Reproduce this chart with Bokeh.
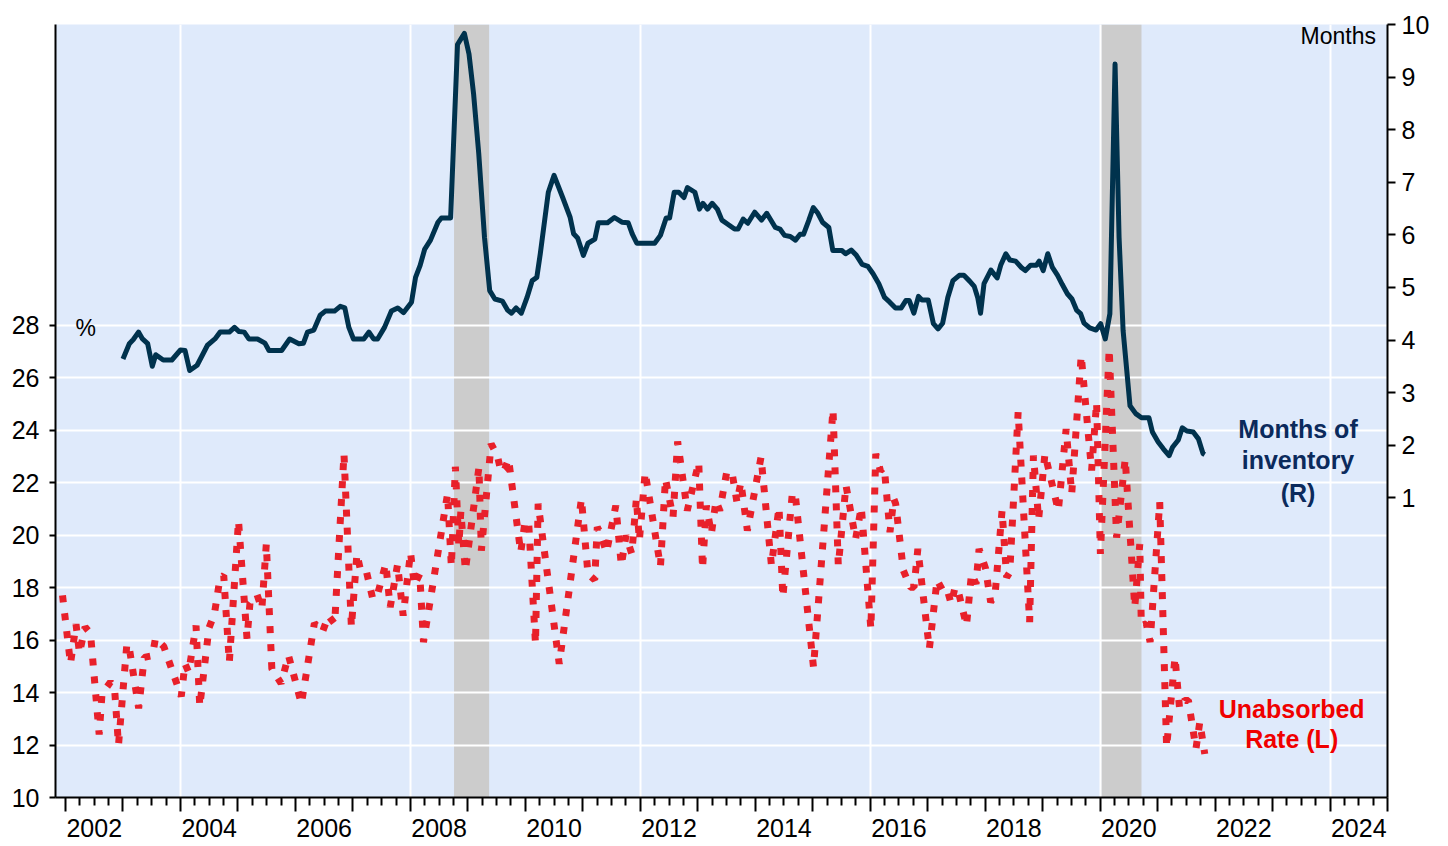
from bokeh.plotting import figure
from bokeh.models import Range1d, LinearAxis, FixedTicker, Label
from bokeh.embed import file_html
from bokeh.resources import INLINE

# ---------------- data ----------------
inv_year = [2003.00, 2003.11, 2003.18, 2003.27, 2003.34, 2003.43, 2003.51, 2003.57, 2003.70, 2003.85,
            2004.00, 2004.08, 2004.16, 2004.29, 2004.47, 2004.60, 2004.69, 2004.85, 2004.94,
            2005.02, 2005.11, 2005.19, 2005.34, 2005.47, 2005.54, 2005.76, 2005.90,
            2006.06, 2006.14, 2006.21, 2006.32, 2006.43, 2006.52, 2006.68, 2006.78, 2006.86, 2006.93,
            2007.01, 2007.19, 2007.28, 2007.36, 2007.43, 2007.55, 2007.67, 2007.78, 2007.88,
            2008.02, 2008.09, 2008.17, 2008.25, 2008.35, 2008.48, 2008.54, 2008.70, 2008.82, 2008.94,
            2009.02, 2009.10, 2009.19, 2009.29, 2009.38, 2009.47, 2009.60, 2009.69, 2009.76, 2009.84, 2009.93,
            2010.03, 2010.12, 2010.20, 2010.26, 2010.40, 2010.50, 2010.65, 2010.78, 2010.84, 2010.91,
            2011.01, 2011.09, 2011.21, 2011.27, 2011.43, 2011.55, 2011.68, 2011.79, 2011.86, 2011.94,
            2012.25, 2012.35, 2012.45, 2012.51, 2012.59, 2012.67, 2012.76, 2012.82, 2012.95,
            2013.03, 2013.09, 2013.17, 2013.25, 2013.34, 2013.42, 2013.51, 2013.64, 2013.70, 2013.79, 2013.87, 2013.99,
            2014.11, 2014.20, 2014.35, 2014.43, 2014.51, 2014.61, 2014.70, 2014.78, 2014.84, 2014.93,
            2015.01, 2015.09, 2015.17, 2015.28, 2015.35, 2015.51, 2015.57, 2015.67, 2015.76, 2015.86, 2015.96,
            2016.05, 2016.15, 2016.25, 2016.34, 2016.44, 2016.54, 2016.62, 2016.68, 2016.76, 2016.84, 2016.90,
            2017.01, 2017.10, 2017.18, 2017.26, 2017.35, 2017.44, 2017.55, 2017.63, 2017.73, 2017.81, 2017.87, 2017.92, 2017.98,
            2018.10, 2018.21, 2018.27, 2018.36, 2018.43, 2018.53, 2018.63, 2018.70, 2018.79, 2018.89, 2018.94,
            2019.01, 2019.09, 2019.17, 2019.26, 2019.34, 2019.43, 2019.51, 2019.59, 2019.66, 2019.72, 2019.82, 2019.93,
            2020.01, 2020.09, 2020.17, 2020.26, 2020.33, 2020.40, 2020.52, 2020.62, 2020.72, 2020.85, 2020.91,
            2021.01, 2021.10, 2021.20, 2021.26, 2021.36, 2021.43, 2021.51, 2021.62, 2021.71, 2021.79, 2021.82]
inv_months = [3.64, 3.93, 4.01, 4.15, 4.02, 3.93, 3.50, 3.72, 3.62, 3.62,
              3.81, 3.80, 3.42, 3.52, 3.90, 4.02, 4.15, 4.15, 4.24,
              4.16, 4.15, 4.02, 4.02, 3.94, 3.80, 3.80, 4.02,
              3.93, 3.94, 4.15, 4.19, 4.47, 4.55, 4.55, 4.64, 4.61, 4.24,
              4.02, 4.02, 4.15, 4.02, 4.02, 4.24, 4.55, 4.61, 4.52,
              4.72, 5.19, 5.42, 5.73, 5.90, 6.24, 6.32, 6.32, 9.62, 9.83,
              9.44, 8.68, 7.54, 5.95, 4.94, 4.78, 4.74, 4.57, 4.51, 4.61, 4.51,
              4.81, 5.13, 5.19, 5.64, 6.81, 7.13, 6.71, 6.33, 6.02, 5.94,
              5.61, 5.84, 5.92, 6.23, 6.23, 6.33, 6.24, 6.23, 6.02, 5.84,
              5.84, 5.99, 6.32, 6.32, 6.81, 6.81, 6.71, 6.90, 6.81,
              6.49, 6.60, 6.49, 6.60, 6.49, 6.28, 6.21, 6.11, 6.11, 6.30, 6.22, 6.43,
              6.28, 6.41, 6.14, 6.11, 5.99, 5.97, 5.90, 6.01, 6.01, 6.27,
              6.52, 6.41, 6.24, 6.14, 5.70, 5.70, 5.64, 5.71, 5.61, 5.44, 5.40,
              5.26, 5.07, 4.81, 4.72, 4.61, 4.61, 4.75, 4.75, 4.51, 4.83, 4.76,
              4.76, 4.31, 4.21, 4.32, 4.81, 5.13, 5.23, 5.23, 5.12, 5.02, 4.81, 4.51, 5.07,
              5.33, 5.18, 5.42, 5.64, 5.52, 5.50, 5.38, 5.32, 5.42, 5.42, 5.50,
              5.32, 5.64, 5.38, 5.23, 5.06, 4.88, 4.78, 4.57, 4.50, 4.32, 4.23, 4.19,
              4.31, 4.02, 4.50, 9.25, 5.95, 4.18, 2.75, 2.60, 2.52, 2.52, 2.25,
              2.06, 1.93, 1.80, 1.96, 2.10, 2.33, 2.27, 2.25, 2.12, 1.84, 1.82]

unabs_year = [2001.948, 2002.087, 2002.183, 2002.243, 2002.341, 2002.435, 2002.586, 2002.635, 2002.783, 2002.852, 2002.922,
              2003.068, 2003.113, 2003.273, 2003.370, 2003.513, 2003.565, 2003.711,
              2004.014, 2004.078, 2004.143, 2004.271, 2004.336, 2004.496, 2004.591, 2004.689, 2004.753, 2004.850,
              2005.010, 2005.158, 2005.209, 2005.332, 2005.416, 2005.494, 2005.590, 2005.751, 2005.880,
              2006.104, 2006.330, 2006.470, 2006.574, 2006.683, 2006.845, 2006.974,
              2007.070, 2007.134, 2007.231, 2007.346, 2007.424, 2007.572, 2007.649, 2007.777, 2007.875,
              2008.003, 2008.068, 2008.163, 2008.228, 2008.647, 2008.713, 2008.783, 2008.843, 2008.878, 2008.957,
              2009.193, 2009.235, 2009.405, 2009.513, 2009.579, 2009.643, 2009.708, 2009.920, 2009.997,
              2010.061, 2010.177, 2010.223, 2010.590, 2010.976,
              2011.090, 2011.207, 2011.252, 2011.297, 2011.412, 2011.574, 2011.670, 2011.751, 2011.852, 2011.932, 2011.984,
              2012.085, 2012.351, 2012.438, 2012.570, 2012.650, 2012.817,
              2013.017, 2013.083, 2013.150, 2013.237, 2013.317, 2013.383, 2013.503, 2013.595, 2013.682, 2013.750, 2013.863,
              2014.101, 2014.282, 2014.414, 2014.480, 2014.647, 2014.701,
              2015.014, 2015.353, 2015.445, 2015.579, 2015.746, 2015.845,
              2016.012, 2016.097, 2016.177, 2016.245, 2016.344, 2016.410, 2016.443, 2016.577, 2016.697, 2016.763, 2016.829,
              2017.029, 2017.163, 2017.277, 2017.343, 2017.409, 2017.477, 2017.543, 2017.675, 2017.762, 2017.842, 2017.894,
              2018.009, 2018.096, 2018.174, 2018.294, 2018.374, 2018.428, 2018.574, 2018.774, 2018.840, 2018.930,
              2019.040, 2019.273, 2019.409, 2019.506, 2019.671, 2019.852, 2019.939,
              2020.005, 2020.158, 2020.287, 2020.437, 2020.603, 2020.690, 2020.717, 2020.804, 2020.870,
              2021.037, 2021.157, 2021.303, 2021.383, 2021.470, 2021.536, 2021.668, 2021.734, 2021.821]
unabs_rate = [17.70, 15.10, 16.60, 15.50, 16.50, 16.25, 12.40, 13.95, 14.40, 14.20, 12.00,
              15.86, 15.66, 13.40, 15.34, 15.40, 16.07, 15.75,
              13.85, 15.10, 14.77, 16.55, 13.47, 16.46, 17.00, 18.37, 18.46, 15.15,
              20.55, 16.05, 17.40, 17.73, 17.19, 19.66, 14.90, 14.35, 15.41,
              13.57, 16.64, 16.30, 16.93, 16.62, 23.09, 16.49,
              19.28, 18.65, 18.65, 17.57, 17.70, 18.90, 17.25, 18.88, 16.93,
              19.34, 18.08, 18.52, 15.92, 21.57, 18.80, 22.60, 19.60, 20.90, 18.65,
              22.58, 19.40, 23.47, 23.03, 22.39, 22.52, 22.90, 19.34, 20.55,
              20.36, 15.86, 21.19, 15.09, 21.38,
              18.52, 18.29, 20.30, 20.11, 19.34, 21.12, 18.84, 19.98, 19.28, 21.38, 19.79,
              22.39, 18.80, 22.14, 20.68, 23.56, 20.93,
              22.77, 18.71, 21.12, 20.05, 21.31, 20.93, 22.39, 22.39, 21.25, 22.01, 20.17,
              22.97, 18.84, 21.06, 17.63, 21.63, 21.44,
              14.96, 24.78, 18.84, 21.89, 19.85, 21.06,
              16.42, 23.09, 22.46, 22.58, 20.11, 21.38, 21.19, 18.65, 18.01, 18.01, 19.47,
              15.66, 18.29, 17.82, 17.89, 17.38, 18.01, 17.76, 16.55, 18.52, 18.14, 19.47,
              18.71, 17.44, 17.76, 20.93, 18.39, 18.58, 24.68, 16.68, 23.03, 20.60,
              23.09, 20.93, 24.04, 21.57, 26.84, 22.46, 25.06,
              19.28, 27.09, 19.90, 22.90, 17.25, 19.66, 16.55, 16.62, 15.92,
              21.25, 11.92, 15.34, 13.38, 13.70, 13.70, 11.86, 12.87, 11.66]

recession_start = [2008.76, 2020.02]
recession_end = [2009.37, 2020.72]

x_major = list(range(2002, 2026))                                   # Jan-1 ticks
x_minor = [y + q for y in range(2002, 2025) for q in (0.25, 0.5, 0.75)]
x_blank = {y: "" for y in x_major}
label_years = list(range(2002, 2025, 2))
label_pos = [y + 0.5 for y in label_years]                          # labels centred mid-year
label_text = {y + 0.5: str(y) for y in label_years}
x_grid = [2004, 2008, 2012, 2016, 2020, 2024]
left_ticks = [10, 12, 14, 16, 18, 20, 22, 24, 26, 28]
right_ticks = [1, 2, 3, 4, 5, 6, 7, 8, 9, 10]

FONT = "Liberation Sans"
NAVY = "#00324d"
RED = "#e8202a"

p = figure(width=1448, height=846,
           x_range=Range1d(2001.826, 2025.0), y_range=Range1d(10, 39.45),
           output_backend="svg", toolbar_location=None,
           min_border_left=55, min_border_right=61, min_border_top=24, min_border_bottom=49)
p.extra_y_ranges = {"right": Range1d(-4.70, 10)}
p.background_fill_color = "#dfeafb"
p.border_fill_color = "white"
p.outline_line_color = None

# recession shading, below the grid
p.quad(left=recession_start, right=recession_end, bottom=10, top=39.45,
       fill_color="#cccccc", line_color=None, level="image")

# grids
p.xgrid.ticker = FixedTicker(ticks=x_grid)
p.ygrid.ticker = FixedTicker(ticks=left_ticks)
for g in (p.xgrid, p.ygrid):
    g.grid_line_color = "white"
    g.grid_line_width = 2

# series
p.line(unabs_year, unabs_rate, line_color=RED, line_width=7, line_dash="7 11")
p.line(inv_year, inv_months, y_range_name="right", line_color=NAVY, line_width=5,
       line_join="round")

# x axis: ticks only (nearest the frame) ...
xa = p.xaxis[0]
xa.ticker = FixedTicker(ticks=x_major, minor_ticks=x_minor)
xa.major_label_overrides = x_blank
xa.major_tick_out = 14
xa.major_tick_in = 0
xa.minor_tick_out = 8
xa.minor_tick_in = 0
xa.major_label_standoff = 0
xa.major_label_text_font_size = "1px"
xa.axis_line_color = "black"
xa.axis_line_width = 2
xa.major_tick_line_color = "black"
xa.major_tick_line_width = 2
xa.minor_tick_line_color = "black"
xa.minor_tick_line_width = 2

# ... and a label-only axis below it, labels centred on mid-year
xl = LinearAxis(ticker=FixedTicker(ticks=label_pos, minor_ticks=[]))
xl.major_label_overrides = label_text
xl.axis_line_color = None
xl.major_tick_line_color = None
xl.minor_tick_line_color = None
xl.major_tick_out = 0
xl.major_tick_in = 0
xl.major_label_standoff = 7
xl.major_label_text_font = FONT
xl.major_label_text_font_size = "25px"
xl.major_label_text_color = "black"
p.add_layout(xl, "below")

# left axis
ya = p.yaxis[0]
ya.ticker = FixedTicker(ticks=left_ticks, minor_ticks=[])
ya.major_tick_out = 6
ya.major_tick_in = 0
ya.major_label_standoff = 10

# right axis
ra = LinearAxis(y_range_name="right", ticker=FixedTicker(ticks=right_ticks, minor_ticks=[]))
ra.major_tick_out = 8
ra.major_tick_in = 0
ra.major_label_standoff = 6
p.add_layout(ra, "right")

for ax in (ya, ra):
    ax.axis_line_color = "black"
    ax.axis_line_width = 2
    ax.major_tick_line_color = "black"
    ax.major_tick_line_width = 2
    ax.major_label_text_font = FONT
    ax.major_label_text_font_size = "25px"
    ax.major_label_text_color = "black"

# texts
p.add_layout(Label(x=2002.35, y=27.88, text="%", text_align="center", text_baseline="alphabetic",
                   text_font=FONT, text_font_size="23px", text_color="black"))
p.add_layout(Label(x=2024.80, y=9.78, y_range_name="right", text="Months", text_align="right",
                   text_baseline="alphabetic", text_font=FONT, text_font_size="23px", text_color="black"))

for txt, yy in (("Months of", 2.307), ("inventory", 1.709), ("(R)", 1.096)):
    p.add_layout(Label(x=2023.443, y=yy, y_range_name="right", text=txt, text_align="center",
                       text_baseline="alphabetic", text_font=FONT, text_font_size="25px",
                       text_font_style="bold", text_color="#0b2a5c"))
for txt, yy in (("Unabsorbed", 13.36), ("Rate (L)", 12.23)):
    p.add_layout(Label(x=2023.333, y=yy, text=txt, text_align="center",
                       text_baseline="alphabetic", text_font=FONT, text_font_size="25px",
                       text_font_style="bold", text_color="#f00000"))

open("out.html", "w").write(file_html(p, INLINE))
